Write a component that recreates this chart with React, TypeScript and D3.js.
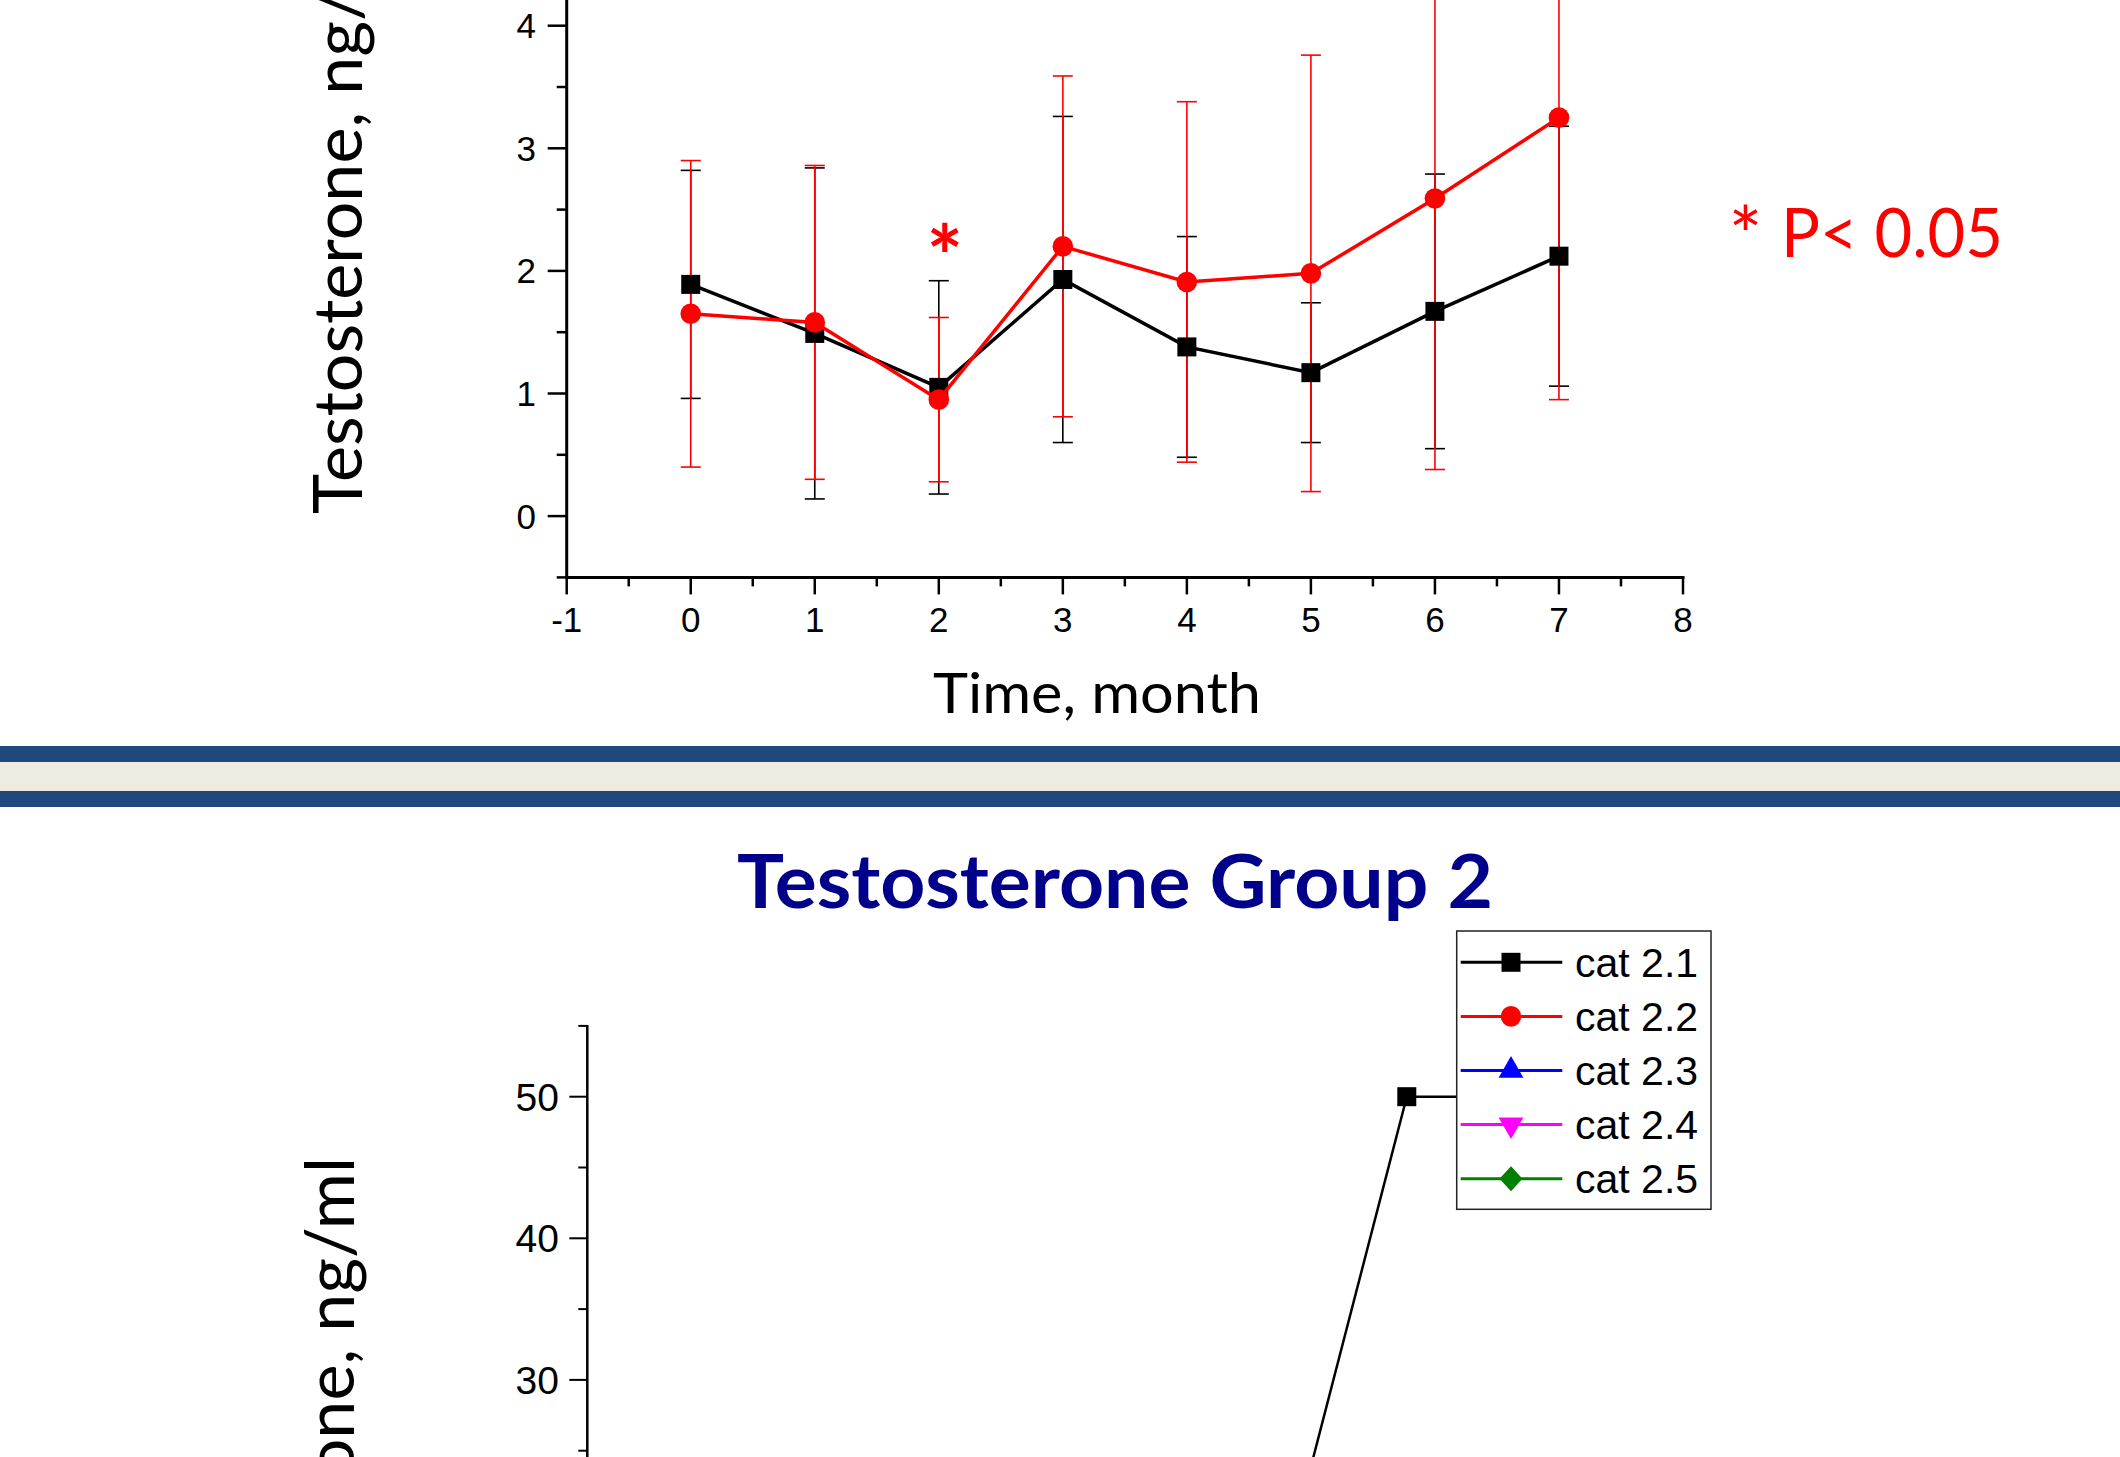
import React, { useEffect } from "react";
import * as d3 from "d3";

// ---------- data ----------
const months = [0, 1, 2, 3, 4, 5, 6, 7];
const blackMean = [1.89, 1.49, 1.05, 1.93, 1.38, 1.17, 1.67, 2.12];
const blackSD = [0.93, 1.35, 0.87, 1.33, 0.9, 0.57, 1.12, 1.06];
const redMean = [1.65, 1.58, 0.95, 2.2, 1.91, 1.98, 2.59, 3.25];
const redSD = [1.25, 1.28, 0.67, 1.39, 1.47, 1.78, 2.21, 2.3];
const sigMonths = [2];

const topXTicks = [-1, 0, 1, 2, 3, 4, 5, 6, 7, 8];
const topXLabels = ["-1", "0", "1", "2", "3", "4", "5", "6", "7", "8"];
const topYTicks = [0, 1, 2, 3, 4, 5];
const topYLabels = ["0", "1", "2", "3", "4", "5"];

const g2Months = [5, 6, 7];
const g2Cat21 = [18.1, 50, 50];
const g2YTicks = [20, 30, 40, 50];
const g2YLabels = ["20", "30", "40", "50"];

const legendNames = ["cat 2.1", "cat 2.2", "cat 2.3", "cat 2.4", "cat 2.5"];
const legendColors = ["#000000", "#FF0000", "#0000FF", "#FF00FF", "#008000"];
const legendShapes = ["square", "circle", "triangleUp", "triangleDown", "diamond"];

const ARIAL = "'Liberation Sans', Arial, sans-serif";
const CALIBRI = "Lato, 'Noto Sans', sans-serif";

function shapePath(shape: string): string {
  switch (shape) {
    case "square":
      return "M-9.5,-9.5H9.5V9.5H-9.5Z";
    case "circle":
      return d3.symbol().type(d3.symbolCircle).size(Math.PI * 10.3 * 10.3)() as string;
    case "triangleUp":
      return "M0,-14.4L12.4,7.2L-12.4,7.2Z";
    case "triangleDown":
      return "M0,14.4L12.4,-7.2L-12.4,-7.2Z";
    case "diamond":
      return "M0,-12.5L11.5,0L0,12.5L-11.5,0Z";
  }
  return "";
}

export default function App() {
  useEffect(() => {
    document.body.style.margin = "0";
  }, []);

  const W = 2120;
  const H = 1457;

  // top chart scales
  const x1 = d3.scaleLinear().domain([-1, 8]).range([566.7, 1683]);
  const y1 = d3.scaleLinear().domain([-0.5, 4]).range([577.4, 25.7]);
  const topMinorX = d3.range(-1, 8.01, 0.5);
  const topMinorY = d3.range(-0.5, 5.01, 0.5);

  const line1 = d3
    .line<number>()
    .x((_, i) => x1(months[i]))
    .y((d) => y1(d));

  // bottom chart scales
  const x2 = d3.scaleLinear().domain([-1, 9]).range([587.3, 1758]);
  const y2 = d3.scaleLinear().domain([30, 50]).range([1379.9, 1096.7]);
  const botMinorY = d3.range(20, 55.01, 5);
  const line2 = d3
    .line<number>()
    .x((_, i) => x2(g2Months[i]))
    .y((d) => y2(d));

  const capW = 10;

  const errBars = (mean: number[], sd: number[], color: string) =>
    mean.map((m, i) => {
      const cx = x1(months[i]);
      const yt = y1(m + sd[i]);
      const yb = y1(m - sd[i]);
      return (
        <g key={i} stroke={color} strokeWidth={1.6}>
          <line x1={cx} x2={cx} y1={yt} y2={yb} />
          <line x1={cx - capW} x2={cx + capW} y1={yt} y2={yt} />
          <line x1={cx - capW} x2={cx + capW} y1={yb} y2={yb} />
        </g>
      );
    });

  const legendRow0 = 962.3;
  const legendStep = 54.1;

  return (
    <svg
      width={W}
      height={H}
      viewBox={`0 0 ${W} ${H}`}
      style={{ display: "block", position: "absolute", left: 0, top: 0, background: "#fff" }}
    >
      <rect x={0} y={0} width={W} height={H} fill="#ffffff" />

      {/* ===== top chart ===== */}
      {/* y axis */}
      <line x1={x1(-1)} x2={x1(-1)} y1={y1(-0.5) + 1.5} y2={y1(5)} stroke="#000" strokeWidth={3} />
      {topMinorY.map((v) => {
        const major = Math.abs(v - Math.round(v)) < 1e-6;
        return (
          <line
            key={"ty" + v}
            x1={x1(-1)}
            x2={x1(-1) - (major ? 19 : 10)}
            y1={y1(v)}
            y2={y1(v)}
            stroke="#000"
            strokeWidth={2.5}
          />
        );
      })}
      {topYTicks.map((v, i) => (
        <text
          key={"tyl" + v}
          x={536}
          y={y1(v) + 12.5}
          textAnchor="end"
          fontFamily={ARIAL}
          fontSize={35}
          fill="#000"
        >
          {topYLabels[i]}
        </text>
      ))}
      {/* x axis */}
      <line x1={x1(-1) - 1.5} x2={x1(8) + 1.5} y1={y1(-0.5)} y2={y1(-0.5)} stroke="#000" strokeWidth={3} />
      {topMinorX.map((v) => {
        const major = Math.abs(v - Math.round(v)) < 1e-6;
        return (
          <line
            key={"tx" + v}
            x1={x1(v)}
            x2={x1(v)}
            y1={y1(-0.5)}
            y2={y1(-0.5) + (major ? 17 : 9)}
            stroke="#000"
            strokeWidth={2.5}
          />
        );
      })}
      {topXTicks.map((v, i) => (
        <text
          key={"txl" + v}
          x={x1(v)}
          y={632}
          textAnchor="middle"
          fontFamily={ARIAL}
          fontSize={35}
          fill="#000"
        >
          {topXLabels[i]}
        </text>
      ))}
      <text x={933} y={713} fontFamily={CALIBRI} fontSize={56} textLength={328} lengthAdjust="spacingAndGlyphs" fill="#000">
        Time, month
      </text>
      <text
        transform="translate(362,514) rotate(-90)"
        fontFamily={CALIBRI}
        fontSize={68}
        textLength={594}
        lengthAdjust="spacingAndGlyphs"
        fill="#000"
      >
        Testosterone, ng/ml
      </text>

      {/* error bars */}
      <g>{errBars(blackMean, blackSD, "#000000")}</g>
      <g>{errBars(redMean, redSD, "#FF0000")}</g>
      {/* series lines */}
      <path d={line1(blackMean) as string} fill="none" stroke="#000" strokeWidth={3.5} />
      {blackMean.map((m, i) => (
        <path key={"bs" + i} d={shapePath("square")} transform={`translate(${x1(months[i])},${y1(m)})`} fill="#000" />
      ))}
      <path d={line1(redMean) as string} fill="none" stroke="#FF0000" strokeWidth={3.5} />
      {redMean.map((m, i) => (
        <path key={"rc" + i} d={shapePath("circle")} transform={`translate(${x1(months[i])},${y1(m)})`} fill="#FF0000" />
      ))}
      {sigMonths.map((mo) => (
        <text
          key={"sig" + mo}
          x={x1(mo) + 6}
          y={288}
          textAnchor="middle"
          fontFamily={CALIBRI}
          fontWeight="bold"
          fontSize={86}
          fill="#FF0000"
        >
          *
        </text>
      ))}
      <text x={1745.5} y={264} textAnchor="middle" fontFamily={CALIBRI} fontSize={80} fill="#FF0000">
        *
      </text>
      <text x={1781} y={257} fontFamily={CALIBRI} fontSize={67} textLength={222} lengthAdjust="spacingAndGlyphs" fill="#FF0000">
        P&lt; 0.05
      </text>

      {/* ===== separator ===== */}
      <rect x={0} y={746} width={W} height={16} fill="#1F497D" />
      <rect x={0} y={762} width={W} height={29} fill="#EEECE1" />
      <rect x={0} y={791} width={W} height={16} fill="#1F497D" />

      {/* ===== bottom chart ===== */}
      <text x={737} y={908} fontFamily={CALIBRI} fontWeight="bold" fontSize={74} textLength={756} lengthAdjust="spacingAndGlyphs" fill="#00008B">
        Testosterone Group 2
      </text>
      <line x1={x2(-1)} x2={x2(-1)} y1={y2(55) - 1} y2={H + 10} stroke="#000" strokeWidth={2.5} />
      {botMinorY.map((v) => {
        const major = v % 10 === 0;
        return (
          <line
            key={"by" + v}
            x1={x2(-1)}
            x2={x2(-1) - (major ? 18 : 9)}
            y1={y2(v)}
            y2={y2(v)}
            stroke="#000"
            strokeWidth={2}
          />
        );
      })}
      {g2YTicks.map((v, i) => (
        <text
          key={"byl" + v}
          x={559}
          y={y2(v) + 14}
          textAnchor="end"
          fontFamily={ARIAL}
          fontSize={39}
          fill="#000"
        >
          {g2YLabels[i]}
        </text>
      ))}
      <text
        transform="translate(354,1157) rotate(-90)"
        textAnchor="end"
        fontFamily={CALIBRI}
        fontSize={68}
        textLength={594}
        lengthAdjust="spacingAndGlyphs"
        fill="#000"
      >
        Testosterone, ng/ml
      </text>
      <path d={line2(g2Cat21) as string} fill="none" stroke="#000" strokeWidth={2.5} />
      {g2Cat21.map((v, i) => (
        <path key={"g2s" + i} d={shapePath("square")} transform={`translate(${x2(g2Months[i])},${y2(v)})`} fill="#000" />
      ))}

      {/* legend */}
      <rect x={1456.7} y={931} width={254.3} height={278.3} fill="#fff" stroke="#222" strokeWidth={1.5} />
      {legendNames.map((name, i) => {
        const cy = legendRow0 + i * legendStep;
        return (
          <g key={name}>
            <line x1={1460.7} x2={1562.3} y1={cy} y2={cy} stroke={legendColors[i]} strokeWidth={3} />
            <path d={shapePath(legendShapes[i])} transform={`translate(1511,${cy})`} fill={legendColors[i]} />
            <text x={1575} y={cy + 14.4} fontFamily={ARIAL} fontSize={41} fill="#000">
              {name}
            </text>
          </g>
        );
      })}
    </svg>
  );
}
